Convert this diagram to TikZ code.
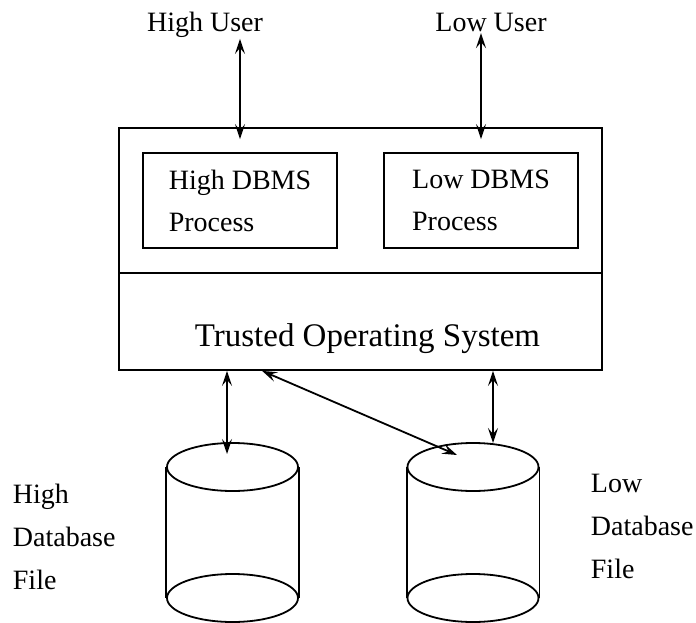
\documentclass[tikz,border=0pt]{standalone}
\usepackage{fontspec}
\setmainfont{Liberation Serif}
\usetikzlibrary{arrows.meta,shapes.geometric}
\tikzset{
  txt/.style={font=\fontsize{28}{43}\selectfont, inner sep=0pt},
  procbox/.style={draw, minimum width=194pt, minimum height=95pt,
    align=left, font=\fontsize{28}{42}\selectfont},
  layer/.style={draw, minimum width=483pt, inner sep=0pt},
  disk/.style={draw, ellipse, minimum width=131pt, minimum height=48pt, inner sep=0pt},
  link/.style={{Stealth[length=15pt,width=10pt,inset=6pt]}-{Stealth[length=15pt,width=10pt,inset=6pt]}},
}
\begin{document}
\begin{tikzpicture}[x=1pt, y=-1pt, line width=1.8pt]
  \useasboundingbox (0,0) rectangle (696,623);
  % users
  \node[txt, anchor=base] (highuser) at (205,32) {High User};
  \node[txt, anchor=base] (lowuser) at (491,32) {Low User};
  % trusted computing base
  \node[layer, minimum height=145pt] (tcb) at (360.5,200.5) {};
  \node[layer, minimum height=97pt] (os) at (360.5,321.5) {};
  \node[anchor=base, inner sep=0pt, font=\fontsize{33}{40}\selectfont] (ostext)
    at (367.5,346) {Trusted Operating System};
  \node[procbox] (hdbms) at (240,200.5) {High DBMS\\Process};
  \node[procbox] (ldbms) at (481,200.5) {Low DBMS\\Process};
  % database files
  \node[disk] (hightop) at (232.5,467) {};
  \node[disk] (highbot) at (232.5,598) {};
  \node[disk] (lowtop) at (473,467) {};
  \node[disk] (lowbot) at (473,598) {};
  \draw (hightop.west) -- (highbot.west) (hightop.east) -- (highbot.east);
  \draw (lowtop.west) -- (lowbot.west) (lowtop.east) -- (lowbot.east);
  \node[txt, align=left, anchor=west] (highfile) at (12,536.5) {High\\Database\\File};
  \node[txt, align=left, anchor=west] (lowfile) at (590,526) {Low\\Database\\File};
  % connectors
  \coordinate (hin) at (227,454);
  \coordinate (lin) at (493,443);
  \coordinate (cross) at (457,455);
  \begin{scope}[link]
    \draw (hdbms.north |- highuser.south) to ([yshift=13pt]hdbms.north);
    \draw (ldbms.north |- lowuser.south) to ([yshift=13pt]ldbms.north);
    \draw (hin |- os.south) to (hin);
    \draw (lin |- os.south) to (lin);
    \draw ([xshift=144pt]os.south west) to (cross);
  \end{scope}
\end{tikzpicture}
\end{document}
